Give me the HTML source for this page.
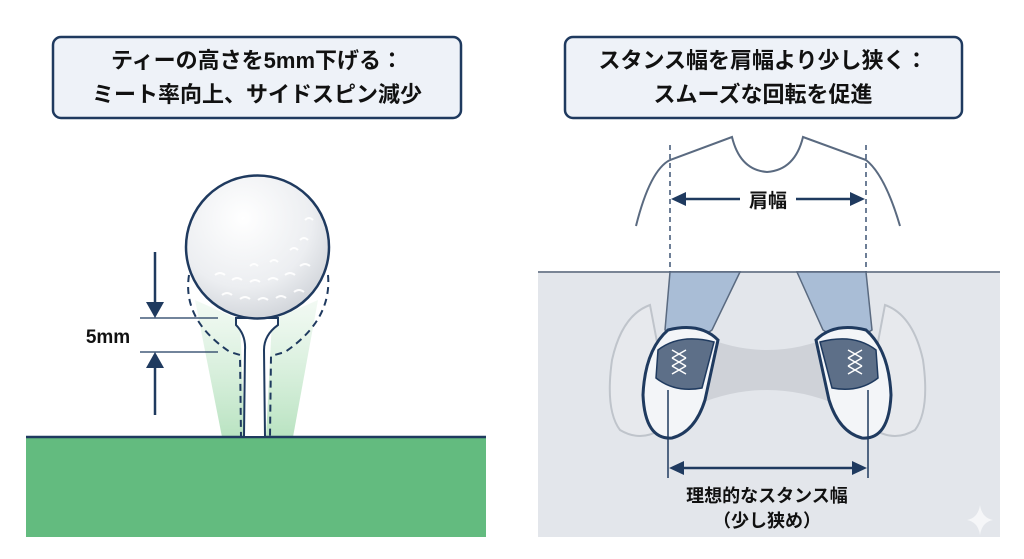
<!DOCTYPE html>
<html><head><meta charset="utf-8"><style>
html,body{margin:0;padding:0;background:#fff;}
svg{display:block;font-family:"Liberation Sans","Noto Sans CJK JP",sans-serif;}
</style></head><body>
<svg width="1024" height="559" viewBox="0 0 1024 559" xmlns="http://www.w3.org/2000/svg">
<defs>
<radialGradient id="ball" cx="0.4" cy="0.3" r="0.8"><stop offset="0" stop-color="#ffffff"/><stop offset="0.6" stop-color="#eceef1"/><stop offset="1" stop-color="#c9cdd3"/></radialGradient>
<linearGradient id="glow" x1="0" y1="0" x2="0" y2="1"><stop offset="0" stop-color="#bfe5c6" stop-opacity="0.2"/><stop offset="1" stop-color="#a8dcb2" stop-opacity="0.8"/></linearGradient>
</defs>
<rect x="53" y="37" width="408" height="81" rx="8" fill="#eef2f8" stroke="#1f3a5f" stroke-width="2.5"/>
<text x="257" y="68" font-size="22" font-weight="bold" fill="#111" text-anchor="middle">ティーの高さを5mm下げる：</text>
<text x="257" y="102" font-size="22" font-weight="bold" fill="#111" text-anchor="middle">ミート率向上、サイドスピン減少</text>
<rect x="565" y="37" width="397" height="81" rx="8" fill="#eef2f8" stroke="#1f3a5f" stroke-width="2.5"/>
<text x="763" y="68" font-size="22" font-weight="bold" fill="#111" text-anchor="middle">スタンス幅を肩幅より少し狭く：</text>
<text x="763" y="102" font-size="22" font-weight="bold" fill="#111" text-anchor="middle">スムーズな回転を促進</text>

<polygon points="195,300 240,320 245,437 222,437" fill="url(#glow)"/>
<polygon points="318,300 272,320 266,437 293,437" fill="url(#glow)"/>
<rect x="26" y="437" width="460" height="100" fill="#63bb7f"/>
<line x1="26" y1="437" x2="486" y2="437" stroke="#1f3a5f" stroke-width="2.5"/>
<path d="M236,318 L236,325 Q246,335 245,350 L244,437 L265,437 L264,350 Q264,335 278,325 L278,318 Z" fill="#fff" stroke="#1f3a5f" stroke-width="2"/>
<path d="M189,275 Q182,320 230,352 L240,355 L241,437" fill="none" stroke="#1f3a5f" stroke-width="2" stroke-dasharray="7,5"/>
<path d="M328,275 Q332,320 285,352 L271,356 L270,437" fill="none" stroke="#1f3a5f" stroke-width="2" stroke-dasharray="7,5"/>
<circle cx="257.5" cy="247" r="71.5" fill="url(#ball)" stroke="#1f3a5f" stroke-width="2.5"/>
<g fill="none" stroke="#fff" stroke-width="2" opacity="0.9">
<path d="M215,275 q5,-4 10,0 M232,280 q5,-4 10,0 M250,282 q5,-4 10,0 M268,280 q5,-4 10,0 M285,275 q5,-4 10,0 M300,266 q5,-4 10,0 M222,295 q5,-4 10,0 M240,299 q5,-4 10,0 M258,300 q5,-4 10,0 M276,298 q5,-4 10,0 M294,292 q5,-4 10,0 M300,240 q4,-4 8,0 M305,220 q4,-4 8,0 M290,250 q4,-4 8,0 M270,262 q4,-4 8,0 M250,266 q4,-4 8,0"/>
</g>
<line x1="140" y1="318" x2="218" y2="318" stroke="#1f3a5f" stroke-width="1.2"/>
<line x1="140" y1="352" x2="218" y2="352" stroke="#1f3a5f" stroke-width="1.2"/>
<line x1="155" y1="252" x2="155" y2="302" stroke="#1f3a5f" stroke-width="2.5"/>
<polygon points="146,302 164,302 155,318" fill="#1f3a5f"/>
<line x1="155" y1="368" x2="155" y2="415" stroke="#1f3a5f" stroke-width="2.5"/>
<polygon points="146,368 164,368 155,352" fill="#1f3a5f"/>
<text x="108" y="343" font-size="19" font-weight="bold" fill="#111" text-anchor="middle">5mm</text>

<rect x="538" y="272" width="462" height="265" fill="#e3e6eb"/>
<line x1="538" y1="272" x2="1000" y2="272" stroke="#7a8595" stroke-width="2"/>
<path d="M636,226 Q650,170 670,160 L732,137 Q740,170 767,172 Q795,170 803,137 L866,160 Q885,175 900,226" fill="none" stroke="#5a6a80" stroke-width="2"/>
<line x1="670" y1="145" x2="670" y2="272" stroke="#1f3a5f" stroke-width="1.3" stroke-dasharray="5,4"/>
<line x1="866" y1="145" x2="866" y2="272" stroke="#1f3a5f" stroke-width="1.3" stroke-dasharray="5,4"/>
<line x1="684" y1="199" x2="740" y2="199" stroke="#1f3a5f" stroke-width="2.5"/>
<line x1="796" y1="199" x2="852" y2="199" stroke="#1f3a5f" stroke-width="2.5"/>
<polygon points="671,199 686,192 686,206" fill="#1f3a5f"/>
<polygon points="865,199 850,192 850,206" fill="#1f3a5f"/>
<text x="768" y="207" font-size="19" font-weight="bold" fill="#111" text-anchor="middle">肩幅</text>
<g fill="#e8eaee" stroke="#bcc1c8" stroke-width="2" opacity="0.9">
<path d="M650,305 Q622,315 612,360 Q605,410 620,430 Q640,442 660,430 L668,400 Z"/>
<path d="M885,305 Q913,315 923,360 Q930,410 915,430 Q895,442 875,430 L867,400 Z"/>
</g>
<path d="M700,335 Q767,365 835,335 L838,405 Q767,375 696,405 Z" fill="#c9cdd3" opacity="0.8"/>
<polygon points="670,272 740,272 712,330 690,345 665,330" fill="#a9bdd6" stroke="#5a6a80" stroke-width="1.5"/>
<polygon points="797,272 866,272 872,330 847,345 823,330" fill="#a9bdd6" stroke="#5a6a80" stroke-width="1.5"/>
<g stroke="#1f3a5f" stroke-width="3">
<path d="M668,330 Q645,350 643,395 Q645,440 672,438 Q695,432 705,400 L718,340 Q700,322 668,330 Z" fill="#f3f5f8"/>
<path d="M866,330 Q889,350 891,395 Q889,440 862,438 Q839,432 829,400 L816,340 Q834,322 866,330 Z" fill="#f3f5f8"/>
</g>
<path d="M658,350 Q680,333 714,342 L702,388 Q675,393 656,378 Z" fill="#5d6f88" stroke="#1f3a5f" stroke-width="1.5"/>
<path d="M876,350 Q854,333 820,342 L832,388 Q859,393 878,378 Z" fill="#5d6f88" stroke="#1f3a5f" stroke-width="1.5"/>
<g stroke="#fff" stroke-width="1.5" fill="none">
<path d="M672,350 l14,8 M672,358 l14,8 M672,366 l14,8 M686,350 l-14,8 M686,358 l-14,8 M686,366 l-14,8"/>
<path d="M848,350 l14,8 M848,358 l14,8 M848,366 l14,8 M862,350 l-14,8 M862,358 l-14,8 M862,366 l-14,8"/>
</g>
<line x1="668" y1="390" x2="668" y2="478" stroke="#1f3a5f" stroke-width="1.5"/>
<line x1="868" y1="390" x2="868" y2="478" stroke="#1f3a5f" stroke-width="1.5"/>
<line x1="682" y1="468" x2="854" y2="468" stroke="#1f3a5f" stroke-width="2.5"/>
<polygon points="669,468 684,461 684,475" fill="#1f3a5f"/>
<polygon points="867,468 852,461 852,475" fill="#1f3a5f"/>
<text x="767" y="502" font-size="18" font-weight="bold" fill="#111" text-anchor="middle">理想的なスタンス幅</text>
<text x="767" y="527" font-size="18" font-weight="bold" fill="#111" text-anchor="middle">（少し狭め）</text>
<path d="M980,505 Q982,518 993,520 Q982,522 980,535 Q978,522 967,520 Q978,518 980,505 Z" fill="#f5f6f8"/>
</svg>
</body></html>
